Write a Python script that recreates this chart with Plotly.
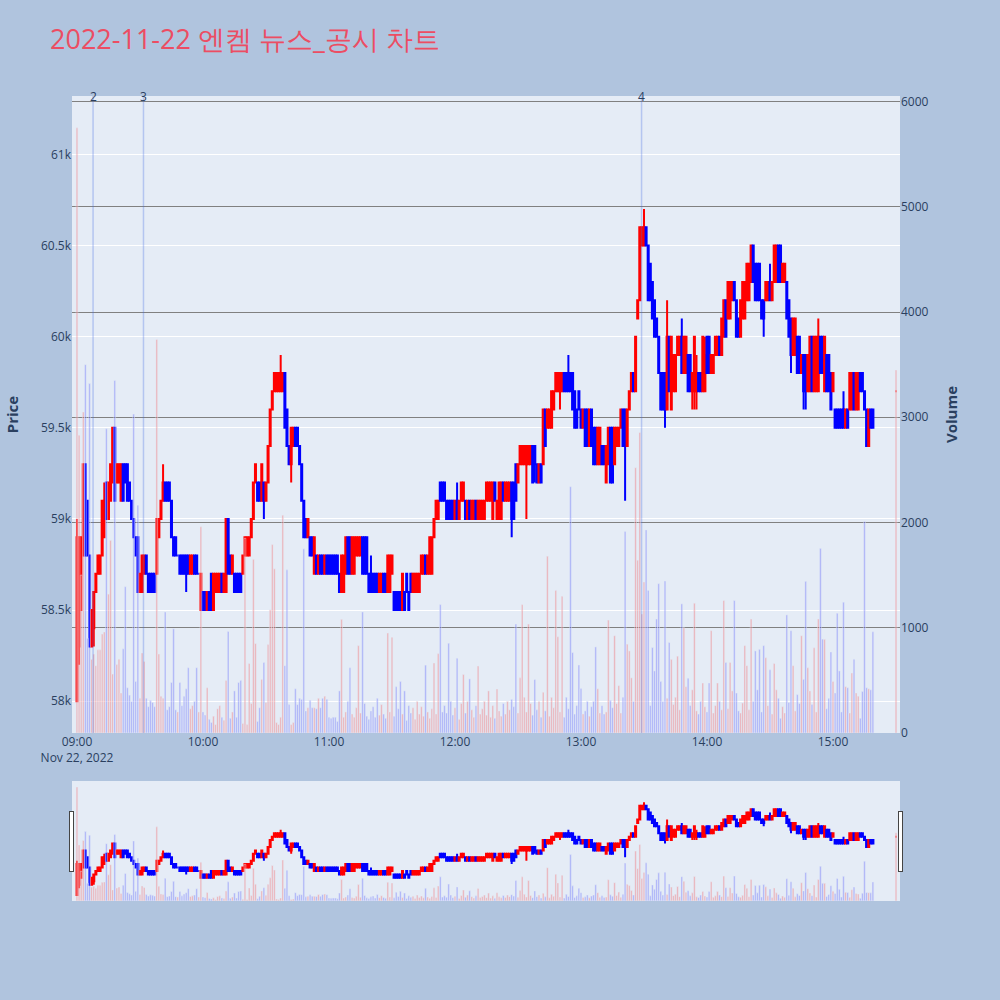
import pandas as pd
import plotly.graph_objects as go

# ---- data ----
minute_times = list(pd.date_range("2022-11-22 09:00", periods=380, freq="min")) + [pd.Timestamp("2022-11-22 15:30")]

open_ = [
58000,58300,58500,58800,59300,59100,58800,58300,58400,58600,
58700,58700,58800,58900,59200,59000,59100,59200,59500,59200,
59200,59100,59300,59300,59300,59200,59100,59000,58900,58900,
58600,58600,58700,58800,58700,58700,58700,58700,58700,58900,
59000,59100,59200,59200,59200,59100,58900,58900,58800,58800,
58800,58800,58800,58800,58700,58700,58800,58800,58700,58500,
58600,58600,58500,58600,58700,58500,58600,58600,58600,58700,
58600,58600,59000,58800,58700,58700,58700,58700,58700,58700,
58800,58800,58800,58900,59000,59200,59200,59200,59100,59200,
59100,59200,59400,59600,59700,59700,59700,59700,59700,59800,
59600,59400,59300,59400,59500,59500,59400,59300,59100,59000,
58900,58900,58900,58700,58800,58700,58800,58800,58700,58800,
58800,58800,58800,58800,58800,58700,58600,58600,58700,58900,
58900,58700,58700,58800,58800,58800,58900,58900,58900,58700,
58700,58700,58700,58700,58600,58600,58700,58700,58600,58600,
58700,58600,58600,58600,58600,58500,58600,58700,58600,58700,
58600,58600,58600,58600,58700,58700,58800,58700,58700,58700,
58900,59000,59000,59200,59200,59200,59100,59100,59100,59100,
59000,59100,59000,59100,59100,59100,59000,59100,59000,59000,
59100,59000,59000,59000,59000,59100,59100,59100,59000,59200,
59000,59000,59000,59200,59100,59100,59100,59200,59200,59300,
59200,59300,59300,59300,59300,59300,59300,59400,59400,59300,
59200,59300,59300,59600,59500,59500,59500,59600,59700,59700,
59700,59700,59800,59800,59800,59800,59800,59700,59600,59700,
59600,59500,59600,59600,59400,59600,59500,59500,59300,59300,
59400,59400,59200,59300,59500,59500,59300,59400,59400,59500,
59600,59600,59400,59600,59700,59800,59700,60100,60200,60500,
60500,60600,60500,60400,60300,60200,60100,60000,59800,59800,
59800,59600,60000,59600,59700,59700,59900,59900,60000,59800,
59800,59900,59900,59700,59700,59700,59800,59800,59700,59700,
60000,60000,59800,59800,59900,59900,60000,59900,60000,60200,
60100,60100,60200,60300,60200,60100,60000,60100,60100,60200,
60200,60300,60500,60400,60400,60400,60200,60200,60200,60200,
60300,60200,60300,60300,60500,60500,60300,60300,60300,60200,
60100,59900,59900,60000,60000,59800,59900,59900,59700,59700,
60000,59700,59700,59700,60000,60000,59700,59900,59900,59800,
59700,59600,59600,59600,59600,59600,59500,59600,59600,59600,
59800,59600,59600,59800,59800,59700,59600,59400,59600,59600,
59700]

high = [
59000,58900,58900,59300,59300,59100,58800,58500,58600,58700,
58800,58800,59100,59200,59200,59200,59300,59500,59500,59300,
59300,59300,59300,59300,59300,59200,59100,59000,58900,58900,
58700,58800,58800,58800,58700,58700,58700,58700,59000,59000,
59100,59300,59200,59200,59200,59100,58900,58900,58800,58800,
58800,58800,58800,58800,58800,58800,58800,58800,58700,58700,
58600,58600,58600,58600,58700,58700,58700,58700,58700,58700,
58700,59000,59000,58800,58800,58700,58700,58700,58700,58800,
58900,58900,58900,59000,59200,59300,59200,59200,59300,59200,
59200,59400,59600,59700,59800,59800,59800,59900,59800,59800,
59600,59400,59500,59500,59500,59500,59400,59300,59100,59000,
59000,58900,58900,58900,58800,58800,58800,58800,58800,58800,
58800,58800,58800,58800,58800,58700,58800,58800,58900,58900,
58900,58900,58900,58900,58900,58900,58900,58900,58900,58700,
58800,58700,58700,58700,58700,58700,58700,58700,58800,58800,
58800,58600,58600,58600,58600,58700,58600,58700,58600,58700,
58700,58700,58700,58700,58800,58800,58800,58800,58900,58900,
59000,59100,59100,59200,59200,59200,59100,59100,59100,59100,
59100,59200,59100,59200,59200,59100,59100,59100,59100,59100,
59100,59100,59100,59100,59100,59200,59200,59200,59200,59200,
59100,59200,59200,59200,59200,59200,59200,59200,59200,59300,
59300,59400,59400,59400,59400,59400,59400,59400,59400,59300,
59300,59300,59600,59600,59600,59600,59700,59700,59800,59800,
59800,59800,59800,59800,59900,59800,59800,59700,59600,59700,
59600,59600,59600,59600,59600,59600,59500,59500,59500,59500,
59400,59400,59400,59500,59500,59500,59500,59500,59500,59600,
59600,59600,59600,59700,59800,59800,60000,60200,60600,60600,
60700,60600,60500,60400,60300,60200,60100,60000,59800,59800,
59800,60200,60000,60000,59900,59900,60000,60000,60100,60000,
60000,59900,59900,59800,60000,59900,59800,59800,60000,60000,
60000,60000,59900,59900,60000,60000,60000,60100,60200,60200,
60300,60300,60300,60300,60200,60100,60200,60300,60300,60400,
60400,60500,60500,60400,60400,60400,60200,60200,60300,60300,
60400,60300,60500,60500,60500,60500,60400,60400,60300,60200,
60100,60100,60100,60000,60000,59900,59900,59900,59900,60000,
60000,60000,60000,60100,60000,60000,60000,59900,59900,59800,
59800,59600,59600,59600,59600,59700,59600,59600,59800,59800,
59800,59800,59800,59800,59800,59700,59600,59600,59600,59600,
59700]

low = [
58000,58200,58500,58800,58800,58800,58300,58300,58300,58600,
58700,58700,58800,58900,59000,59000,59100,59200,59100,59200,
59200,59100,59100,59200,59100,59100,59000,58900,58800,58600,
58600,58600,58700,58700,58600,58600,58600,58600,58700,58900,
59000,59100,59100,59100,59100,58900,58800,58800,58800,58700,
58700,58700,58600,58700,58700,58700,58700,58700,58700,58500,
58500,58500,58500,58500,58500,58500,58600,58600,58600,58600,
58600,58600,58700,58700,58700,58600,58600,58600,58600,58700,
58800,58800,58800,58900,59000,59200,59100,59100,59100,59000,
59100,59200,59400,59600,59700,59700,59700,59700,59700,59500,
59400,59300,59200,59400,59400,59400,59300,59100,58900,58900,
58900,58800,58800,58700,58700,58700,58700,58700,58700,58700,
58700,58700,58700,58700,58700,58600,58600,58600,58700,58700,
58700,58700,58700,58800,58800,58800,58700,58700,58700,58600,
58600,58600,58600,58600,58600,58600,58600,58600,58600,58600,
58700,58500,58500,58500,58500,58500,58500,58600,58500,58600,
58600,58600,58600,58600,58700,58700,58700,58700,58700,58700,
58900,59000,59000,59100,59100,59100,59000,59000,59000,59000,
59000,59000,59000,59100,59100,59000,59000,59000,59000,59000,
59000,59000,59000,59000,59000,59100,59100,59100,59000,59100,
59000,59000,59000,59100,59100,59100,59100,58900,59000,59100,
59200,59300,59300,59300,59000,59300,59300,59200,59200,59200,
59200,59200,59300,59400,59500,59500,59500,59600,59700,59700,
59600,59700,59700,59700,59700,59700,59600,59500,59500,59600,
59500,59500,59400,59400,59400,59400,59300,59300,59300,59300,
59300,59300,59200,59300,59200,59200,59300,59400,59400,59500,
59400,59100,59400,59600,59700,59700,59700,60100,60200,60500,
60500,60500,60200,60200,60100,60000,60000,59800,59600,59600,
59500,59600,59700,59600,59700,59700,59900,59900,59800,59800,
59800,59700,59700,59600,59600,59600,59700,59700,59700,59700,
59800,59800,59800,59800,59900,59900,59900,59900,60000,60000,
60100,60100,60200,60200,60000,60000,60000,60100,60100,60200,
60200,60300,60300,60200,60200,60200,60100,60000,60200,60200,
60200,60200,60300,60300,60300,60300,60300,60300,60100,60000,
59800,59900,59900,59800,59800,59800,59600,59600,59700,59700,
59700,59700,59700,59700,59800,59800,59700,59700,59700,59600,
59700,59500,59500,59500,59500,59500,59500,59500,59600,59600,
59600,59600,59600,59700,59700,59600,59400,59400,59500,59500,
59700]

close = [
58900,58900,58900,59300,58800,58800,58300,58500,58600,58700,
58800,58800,59100,59100,59000,59200,59300,59500,59100,59300,
59300,59300,59100,59200,59100,59100,59000,58900,58800,58600,
58700,58800,58800,58700,58600,58600,58600,58600,59000,59000,
59100,59200,59100,59100,59100,58900,58800,58800,58800,58700,
58700,58700,58700,58700,58800,58800,58700,58700,58700,58700,
58500,58500,58600,58500,58500,58700,58700,58700,58700,58600,
58700,59000,58700,58700,58800,58600,58600,58600,58600,58800,
58900,58900,58900,59000,59200,59300,59100,59100,59300,59100,
59200,59400,59600,59700,59800,59800,59800,59800,59800,59500,
59400,59300,59500,59500,59400,59400,59300,59100,58900,58900,
59000,58800,58800,58900,58700,58800,58700,58700,58800,58700,
58700,58700,58700,58700,58700,58600,58800,58800,58900,58700,
58700,58900,58900,58900,58900,58900,58700,58700,58700,58600,
58600,58600,58600,58600,58700,58700,58600,58600,58800,58800,
58800,58500,58500,58500,58500,58700,58500,58600,58500,58600,
58700,58700,58700,58700,58800,58800,58700,58800,58900,58900,
59000,59100,59100,59100,59100,59100,59000,59000,59000,59000,
59100,59000,59100,59200,59200,59000,59100,59000,59100,59100,
59000,59100,59100,59100,59100,59200,59200,59200,59200,59100,
59100,59200,59200,59100,59200,59200,59200,59000,59000,59100,
59300,59400,59400,59400,59400,59400,59400,59200,59300,59200,
59300,59200,59600,59400,59600,59600,59700,59700,59800,59800,
59800,59800,59700,59700,59700,59700,59600,59500,59500,59600,
59500,59600,59400,59400,59600,59400,59300,59300,59500,59500,
59300,59300,59400,59500,59200,59200,59500,59500,59500,59600,
59400,59400,59600,59700,59800,59700,60000,60200,60600,60600,
60600,60500,60200,60200,60100,60000,60000,59800,59600,59600,
59600,60000,59700,60000,59900,59900,60000,60000,59800,60000,
60000,59700,59700,59800,60000,59800,59700,59700,60000,59900,
59800,59800,59900,59900,60000,60000,59900,60100,60200,60000,
60300,60300,60300,60200,60000,60000,60200,60300,60300,60400,
60400,60500,60300,60200,60200,60200,60100,60100,60300,60300,
60200,60300,60500,60500,60300,60300,60400,60400,60100,60000,
59900,60100,60100,59800,59800,59900,59700,59700,59900,60000,
59700,60000,60000,60000,59800,59800,60000,59700,59700,59600,
59800,59500,59500,59500,59500,59500,59600,59500,59800,59800,
59600,59800,59800,59700,59700,59600,59400,59600,59500,59500,
59700]

volume = [
5750,2830,1500,3050,3500,900,3320,700,750,640,
790,790,940,960,2890,1320,1830,560,3350,650,
700,380,800,1390,430,360,300,3030,490,2165,
330,760,680,330,250,310,290,250,3740,750,
350,330,1150,220,250,480,990,220,200,480,
260,350,420,620,230,260,300,620,200,1960,
200,170,430,130,100,160,80,230,260,150,
120,500,965,140,200,400,150,480,500,90,
1850,80,660,280,1650,850,110,240,510,670,
290,840,1170,1790,1560,100,80,150,2070,640,
1550,270,80,100,420,270,330,320,1750,210,
240,310,240,240,230,330,240,330,350,320,
150,140,150,150,110,400,1080,150,200,300,
620,180,150,240,830,190,1150,280,160,130,
210,250,150,330,170,270,180,140,950,200,
910,160,440,230,490,180,400,120,260,190,
240,130,300,180,250,160,645,200,140,230,
665,180,754,1220,200,260,190,853,300,170,
240,710,130,280,556,190,300,514,220,150,
260,636,180,230,300,170,400,150,260,140,
418,210,160,280,180,300,220,320,250,1035,
190,524,1220,340,200,1035,280,170,508,220,
300,150,387,210,1680,160,339,240,1355,914,
200,1300,150,340,230,2340,764,180,260,645,
422,180,210,300,160,250,300,818,420,190,
260,180,200,1073,310,240,924,280,450,190,
340,1914,844,780,524,300,2521,1642,2856,1131,
1435,1930,1355,260,812,590,1083,1419,490,300,
1444,330,860,700,270,340,730,220,1227,1000,
440,520,260,410,1233,210,180,300,475,250,
200,475,972,190,260,475,300,220,1259,670,
230,670,400,1259,380,210,190,285,830,640,
220,1083,300,780,410,795,200,830,715,260,
600,180,660,410,330,140,250,190,1122,290,
972,640,210,365,280,924,510,1441,620,400,
270,810,200,1083,1754,892,890,230,330,770,
490,380,1138,590,200,1243,440,430,190,570,
700,380,350,140,395,2010,430,420,410,962,
3448]

news_labels = ["2", "3", "4"]
news_times = ["2022-11-22 09:07:40", "2022-11-22 09:31:40", "2022-11-22 13:28:50"]

title_text = "2022-11-22 엔켐 뉴스_공시 차트"

# ---- figure ----
UP, DOWN = "#FF0000", "#0000FF"
vol_colors = ["rgba(255,0,0,0.25)" if c >= o else "rgba(0,0,255,0.25)" for o, c in zip(open_, close)]

fig = go.Figure()
fig.add_trace(go.Candlestick(
    x=minute_times, open=open_, high=high, low=low, close=close,
    increasing=dict(line=dict(color=UP), fillcolor=UP),
    decreasing=dict(line=dict(color=DOWN), fillcolor=DOWN),
    name="Price", yaxis="y", showlegend=False,
))
fig.add_trace(go.Bar(
    x=minute_times, y=volume, marker=dict(color=vol_colors),
    name="Volume", yaxis="y2", showlegend=False,
))

for lab, t in zip(news_labels, news_times):
    fig.add_shape(type="line", x0=t, x1=t, xref="x", y0=0, y1=1, yref="paper",
                  line=dict(color="rgba(65,105,225,0.3)", width=1.5))
    fig.add_annotation(x=t, xref="x", y=1, yref="paper", text=lab, showarrow=False,
                       yanchor="middle", font=dict(size=12, color="#2a3f5f"))

fig.update_layout(
    width=1000, height=1000,
    template="plotly",
    paper_bgcolor="#B0C4DE",
    plot_bgcolor="#E5ECF6",
    title=dict(text=title_text, x=0.05, xanchor="left", y=0.96, yanchor="middle",
               font=dict(size=27, color="#EC4D63")),
    margin=dict(l=72, r=100, t=96, b=100),
    showlegend=False,
    xaxis=dict(
        range=["2022-11-22 08:57:38", "2022-11-22 15:31:54"],
        showgrid=False,
        rangeslider=dict(visible=True, thickness=0.149, bgcolor="#E5ECF6"),
    ),
    yaxis=dict(title=dict(text="<b>Price</b>", font=dict(size=15), standoff=18),
               range=[57826, 61320], gridcolor="white"),
    yaxis2=dict(title=dict(text="<b>Volume</b>", font=dict(size=15), standoff=18),
                overlaying="y", side="right",
                showgrid=True, gridcolor="gray", zeroline=False),
)

fig.write_html("out.html", config={"displayModeBar": False},
               post_script="document.body.style.margin='0px';")
